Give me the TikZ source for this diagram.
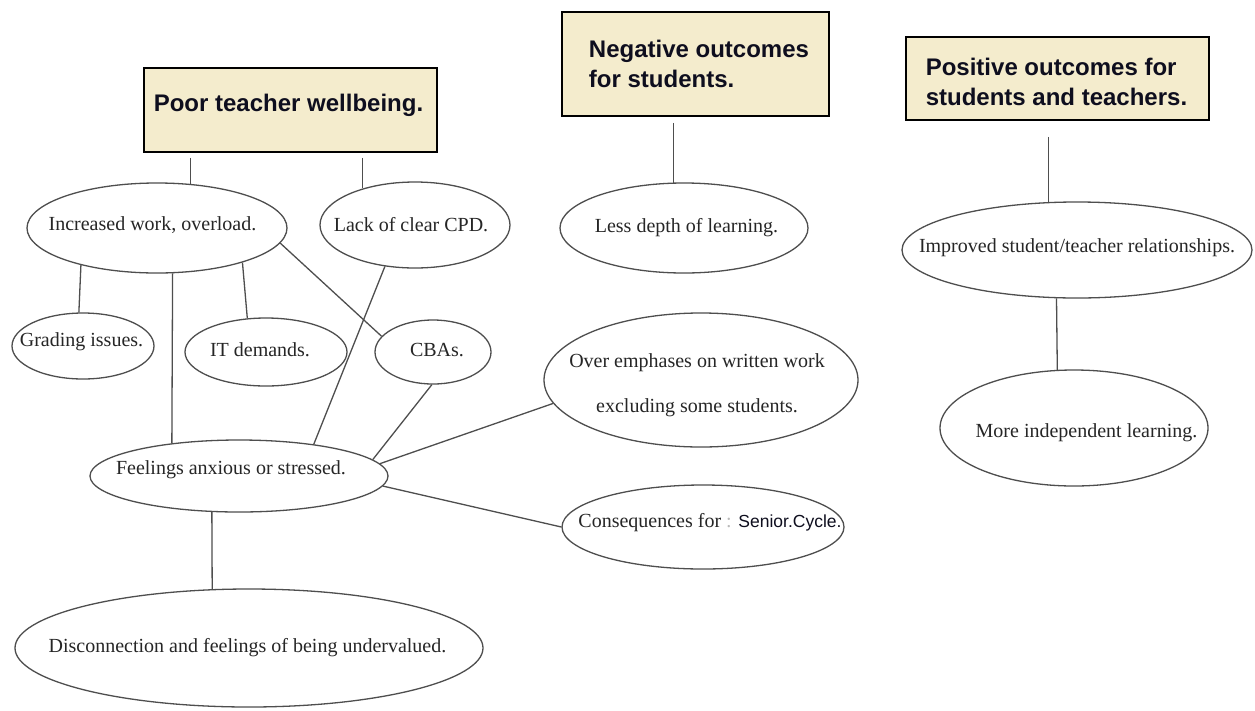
\documentclass[tikz,border=0pt]{standalone}
\usepackage{fontspec}
\setmainfont{Liberation Serif}
\newfontfamily\headfont{Liberation Sans}
\usetikzlibrary{shapes.geometric}
\definecolor{boxfill}{RGB}{244,236,205}
\definecolor{inkgray}{RGB}{78,78,78}
\definecolor{headink}{RGB}{14,14,30}
\definecolor{bodyink}{RGB}{38,38,38}
\begin{document}
\begin{tikzpicture}[x=1pt,y=-1pt,
  headbox/.style={draw=black, line width=1.8pt, fill=boxfill, rectangle, inner sep=0pt},
  headtext/.style={font=\headfont\bfseries\fontsize{24}{30.5}\selectfont, text=headink, align=left, inner sep=0pt},
  bubble/.style={draw=inkgray, line width=1.3pt, ellipse, inner sep=0pt},
  bubbletext/.style={font=\fontsize{20}{24}\selectfont, text=bodyink, inner sep=0pt},
  link/.style={draw=inkgray, line width=1.3pt}]

\fill[white] (0,0) rectangle (1255,710);
\useasboundingbox (0,0) rectangle (1255,710);

% headline boxes
\node[headbox, minimum width=293pt, minimum height=84pt,
  label={[headtext, xshift=-2pt, yshift=5pt]center:{Poor teacher wellbeing.}}] (poor) at (290.5,110) {};
\node[headbox, minimum width=267pt, minimum height=104pt,
  label={[headtext, xshift=3.5pt]center:{Negative outcomes\\for students.}}] (neg) at (695.5,64) {};
\node[headbox, minimum width=303pt, minimum height=83pt,
  label={[headtext, xshift=-1pt, yshift=-3.5pt]center:{Positive outcomes for\\students and teachers.}}] (pos) at (1057.5,78.5) {};

% teacher wellbeing branch
\node[bubble, minimum width=260pt, minimum height=90pt,
  label={[bubbletext, xshift=-4.5pt, yshift=3pt]center:{Increased work, overload.}}] (incr) at (157,228) {};
\node[bubble, minimum width=190pt, minimum height=86pt,
  label={[bubbletext, xshift=-4pt]center:{Lack of clear CPD.}}] (cpd) at (415,225) {};
\node[bubble, minimum width=142pt, minimum height=66pt,
  label={[bubbletext, xshift=-1.5pt, yshift=4pt]center:{Grading issues.}}] (grad) at (83,346) {};
\node[bubble, minimum width=162pt, minimum height=68pt,
  label={[bubbletext, xshift=-6pt, yshift=2pt]center:{IT demands.}}] (itd) at (266,352) {};
\node[bubble, minimum width=116pt, minimum height=64pt,
  label={[bubbletext, xshift=4pt, yshift=2pt]center:{CBAs.}}] (cba) at (433,352) {};
\node[bubble, minimum width=298pt, minimum height=72pt,
  label={[bubbletext, xshift=-8pt, yshift=6pt]center:{Feelings anxious or stressed.}}] (feel) at (239,476) {};
\node[bubble, minimum width=468pt, minimum height=118pt,
  label={[bubbletext, xshift=-1.5pt]center:{Disconnection and feelings of being undervalued.}}] (disc) at (249,648) {};

% student outcomes branch
\node[bubble, minimum width=248pt, minimum height=90pt,
  label={[bubbletext, xshift=2.5pt]center:{Less depth of learning.}}] (less) at (684,228) {};
\node[bubble, minimum width=314pt, minimum height=134pt,
  label={[bubbletext, font=\fontsize{20}{45}\selectfont, align=center, xshift=-4pt, yshift=-5.5pt]center:{Over emphases on written work\\excluding some students.}}] (over) at (701,380) {};
\node[bubble, minimum width=282pt, minimum height=84pt,
  label={[bubbletext, xshift=7pt, yshift=4pt]center:{Consequences for {\color{gray!55}:} {\headfont\fontsize{17.5}{20}\selectfont\color{headink}Senior.Cycle.}}}] (cons) at (703,527) {};

% positive outcomes branch
\node[bubble, minimum width=350pt, minimum height=96pt,
  label={[bubbletext, yshift=2pt]center:{Improved student/teacher relationships.}}] (impr) at (1077,250) {};
\node[bubble, minimum width=268pt, minimum height=116pt,
  label={[bubbletext, xshift=12.5pt, yshift=-5pt]center:{More independent learning.}}] (more) at (1074,428) {};

% connectors from the headline boxes
\draw[link, shorten <=5pt] (incr.53 |- poor.south) -- (incr.53);
\draw[link, shorten <=5pt] (cpd.145 |- poor.south) -- (cpd.145);
\draw[link, shorten <=6pt] (less.103 |- neg.south) -- (less.103);
\draw[link, shorten <=16pt] (impr.121 |- pos.south) -- (impr.121);

% connectors between the ellipses
\draw[link] (incr.206) -- (grad.97);
\draw[link] (incr.289) -- (feel.154);
\draw[link] (incr.338) -- (itd.119);
\draw[link] (incr.353) -- (cba.163);
\draw[link] (cpd.234) -- (feel.23);
\draw[link] (cba.268) -- (feel.7);
\draw[link] (feel.5) -- (over.189);
\draw[link] (feel.356) -- (cons.180);
\draw[link] (feel.233) -- (disc.122);
\draw[link] (impr.247) -- (more.106);

\end{tikzpicture}
\end{document}
